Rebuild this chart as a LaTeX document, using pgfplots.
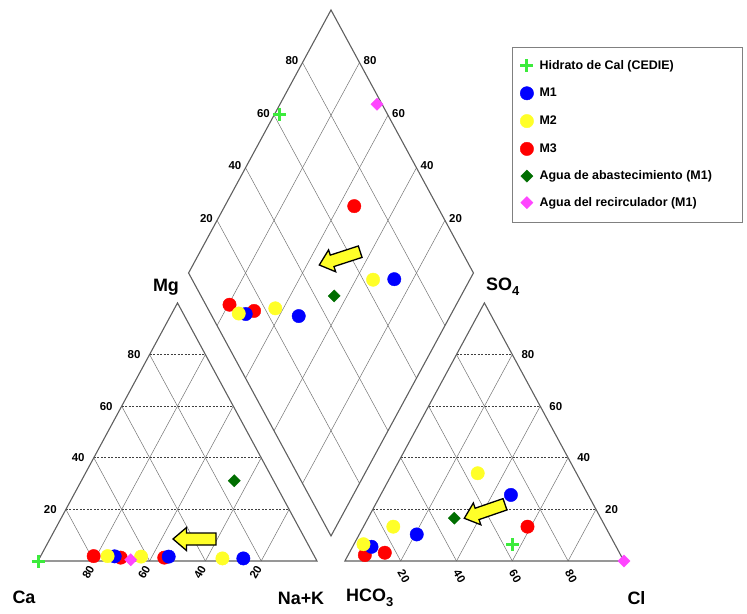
\documentclass[border=0pt]{standalone}
\usepackage{pgfplots}
\pgfplotsset{compat=1.18}
\usepackage{pgfplotstable}
\usepackage{fontspec}
\setmainfont{Liberation Sans}

\definecolor{limegreen}{RGB}{60,235,60}
\definecolor{mblue}{RGB}{0,0,255}
\definecolor{myellow}{RGB}{255,255,40}
\definecolor{mred}{RGB}{255,0,0}
\definecolor{dkgreen}{RGB}{0,110,0}
\definecolor{mpink}{RGB}{255,70,255}
\definecolor{outline}{RGB}{95,95,95}

% Ionic composition in meq-% : Mg, Na+K (cations) and SO4, Cl (anions)
\pgfplotstableread{
Mg   NaK   SO4   Cl
0.0  0.0   6.2   57.0
}\tabCal
\pgfplotstableread{
Mg   NaK   SO4   Cl
1.8  26.6  5.5   6.8
1.7  46.0  10.3  20.6
1.0  73.1  25.6  46.7
}\tabMone
\pgfplotstableread{
Mg   NaK   SO4   Cl
1.9  24.0  6.5   3.4
1.7  36.1  13.3  10.7
1.0  65.6  34.0  30.6
}\tabMtwo
\pgfplotstableread{
Mg   NaK   SO4   Cl
1.9  19.0  2.3   6.0
1.3  29.0  3.2   12.7
1.3  44.6  13.3  58.8
}\tabMthree
\pgfplotstableread{
Mg   NaK   SO4   Cl
31.1 54.8  16.6  30.9
}\tabAbast
\pgfplotstableread{
Mg   NaK   SO4   Cl
0.5  33.0  0.0   100.0
}\tabRecirc

\def\hh{0.8660254}
% diamond frame: centre x, half width, bottom y, half height
\def\dX{1.0502}\def\dA{0.5105}\def\dB{0.0839}\def\dH{0.8826}

% placement of a sample in the three fields
\pgfplotsset{
  table/cation/.style={x expr={\thisrow{NaK}/100+\thisrow{Mg}/200}, y expr={\hh*\thisrow{Mg}/100}},
  table/anion/.style={x expr={1.1+\thisrow{Cl}/100+\thisrow{SO4}/200}, y expr={\hh*\thisrow{SO4}/100}},
  table/central/.style={x expr={0.55+(\thisrow{SO4}+\thisrow{Cl}+\thisrow{NaK})/200},
                  y expr={\hh*(1.1+(\thisrow{SO4}+\thisrow{Cl}-\thisrow{NaK})/100)}},
  sCal/.style={only marks, mark=+, mark size=6.5bp, line width=3bp, color=limegreen},
  sMone/.style={only marks, mark=*, mark size=6.7bp, color=mblue},
  sMtwo/.style={only marks, mark=*, mark size=6.7bp, color=myellow},
  sMthree/.style={only marks, mark=*, mark size=6.7bp, color=mred},
  sAbast/.style={only marks, mark=square*, mark size=4.3bp, color=dkgreen, mark options={rotate=45}},
  sRecirc/.style={only marks, mark=square*, mark size=4.3bp, color=mpink, mark options={rotate=45}},
}

\tikzset{
  frame/.style={draw=outline, line width=1.1bp},
  hgrid/.style={draw=black!75, line width=0.6bp, dash pattern=on 2bp off 1.5bp},
  dgrid/.style={draw=black!55, line width=0.5bp},
  tick/.style={font=\bfseries\fontsize{11.5}{12}\selectfont, inner sep=0pt},
  corner/.style={font=\bfseries\fontsize{18}{20}\selectfont, inner sep=0pt},
  arrowstyle/.style={draw=black, line width=1.3bp, fill=myellow, line join=miter},
}

\newcommand{\blockarrow}[3]{%
  \draw[arrowstyle, shift={(axis cs:#1,#2)}, rotate=#3]
    (0bp,0bp) -- (13.5bp,11.5bp) -- (13.5bp,6bp) -- (43bp,6bp) -- (43bp,-6bp)
    -- (13.5bp,-6bp) -- (13.5bp,-11.5bp) -- cycle;}

\begin{document}
\begin{tikzpicture}
\begin{axis}[
  scale only axis, width=747bp, height=614bp,
  xmin=-0.13620, xmax=2.54122, ymin=-0.17785, ymax=1.88255,
  hide axis, clip=false,
  legend style={at={(axis cs:1.7276,1.6846)}, anchor=north west, draw=none, fill=none,
    inner sep=0pt, row sep=14.4bp, column sep=6bp,
    font=\bfseries\fontsize{12.5}{14}\selectfont, nodes={inner sep=0pt}},
  legend cell align=left,
  legend image code/.code={\draw[#1] plot coordinates {(0bp,0bp)};},
]
\path (rel axis cs:0,0) rectangle (rel axis cs:1,1);

% ---------- left (cation) triangle ----------
\pgfplotsinvokeforeach{20,40,60,80}{
  \draw[dgrid] ({#1/100},0) -- ({0.5+#1/200},{\hh*(1-#1/100)});
  \draw[dgrid] ({1-#1/100},0) -- ({0.5-#1/200},{\hh*(1-#1/100)});
  \draw[hgrid] ({#1/200},{\hh*#1/100}) -- ({1-#1/200},{\hh*#1/100});
  \node[tick, anchor=east, xshift=-9bp] at ({#1/200},{\hh*#1/100}) {#1};
  \node[tick, xshift=-5.5bp, yshift=-11.5bp, rotate=60] at ({1-#1/100},0) {#1};
}
\draw[frame] (0,0) -- (1,0) -- (0.5,\hh) -- cycle;

% ---------- right (anion) triangle ----------
\pgfplotsinvokeforeach{20,40,60,80}{
  \draw[dgrid] ({1.1+#1/100},0) -- ({1.6+#1/200},{\hh*(1-#1/100)});
  \draw[dgrid] ({2.1-#1/100},0) -- ({1.6-#1/200},{\hh*(1-#1/100)});
  \draw[hgrid] ({1.1+#1/200},{\hh*#1/100}) -- ({2.1-#1/200},{\hh*#1/100});
  \node[tick, anchor=west, xshift=9bp] at ({2.1-#1/200},{\hh*#1/100}) {#1};
  \node[tick, xshift=3bp, yshift=-15.5bp, rotate=-60] at ({1.1+#1/100},0) {#1};
}
\draw[frame] (1.1,0) -- (2.1,0) -- (1.6,\hh) -- cycle;

% ---------- central diamond ----------
\pgfplotsinvokeforeach{20,40,60,80}{
  \draw[dgrid] ({\dX-\dA*#1/100},{\dB+\dH*#1/100}) -- ({\dX-\dA*#1/100+\dA},{\dB+\dH*#1/100+\dH});
  \draw[dgrid] ({\dX+\dA*#1/100},{\dB+\dH*#1/100}) -- ({\dX+\dA*#1/100-\dA},{\dB+\dH*#1/100+\dH});
  \node[tick, anchor=east, xshift=-4bp, yshift=2bp] at ({\dX-\dA+\dA*#1/100},{\dB+\dH+\dH*#1/100}) {#1};
  \node[tick, anchor=west, xshift=4bp, yshift=2bp] at ({\dX+\dA-\dA*#1/100},{\dB+\dH+\dH*#1/100}) {#1};
}
\draw[frame] (\dX,\dB) -- ({\dX-\dA},{\dB+\dH}) -- (\dX,{\dB+2*\dH}) -- ({\dX+\dA},{\dB+\dH}) -- cycle;

% ---------- corner names ----------
\node[corner] at (-0.0502,-0.1208) {Ca};
\node[corner] at (0.9427,-0.1242) {Na+K};
\node[corner] at (0.4588,0.9195) {Mg};
\node[corner, anchor=west] at (1.6057,0.9195) {SO\raisebox{-5bp}{\fontsize{13}{13}\selectfont 4}};
\node[corner, anchor=west] at (1.1039,-0.1242) {HCO\raisebox{-5bp}{\fontsize{13}{13}\selectfont 3}};
\node[corner] at (2.1452,-0.1242) {Cl};

% ---------- samples ----------
\addplot[sCal, forget plot] table[cation] {\tabCal};
\addplot[sCal, forget plot] table[anion] {\tabCal};
\addplot[sCal, forget plot] table[central] {\tabCal};
\addplot[sMthree, forget plot] table[cation] {\tabMthree};
\addplot[sMthree, forget plot] table[anion] {\tabMthree};
\addplot[sMthree, forget plot] table[central] {\tabMthree};
\addplot[sMone, forget plot] table[cation] {\tabMone};
\addplot[sMone, forget plot] table[anion] {\tabMone};
\addplot[sMone, forget plot] table[central] {\tabMone};
\addplot[sMtwo, forget plot] table[cation] {\tabMtwo};
\addplot[sMtwo, forget plot] table[anion] {\tabMtwo};
\addplot[sMtwo, forget plot] table[central] {\tabMtwo};
\addplot[sAbast, forget plot] table[cation] {\tabAbast};
\addplot[sAbast, forget plot] table[anion] {\tabAbast};
\addplot[sAbast, forget plot] table[central] {\tabAbast};
\addplot[sRecirc, forget plot] table[cation] {\tabRecirc};
\addplot[sRecirc, forget plot] table[anion] {\tabRecirc};
\addplot[sRecirc, forget plot] table[central] {\tabRecirc};

% ---------- pointers ----------
\blockarrow{0.4839}{0.0738}{0}
\blockarrow{1.0082}{0.9933}{18}
\blockarrow{1.5280}{0.1433}{19}

% ---------- legend ----------
\draw[draw=gray, line width=0.8bp, fill=white] (1.6989,1.7248) rectangle (2.5233,1.1376);
\addlegendimage{sCal}
\addlegendentry{Hidrato de Cal (CEDIE)}
\addlegendimage{sMone}
\addlegendentry{M1}
\addlegendimage{sMtwo}
\addlegendentry{M2}
\addlegendimage{sMthree}
\addlegendentry{M3}
\addlegendimage{sAbast}
\addlegendentry{Agua de abastecimiento (M1)}
\addlegendimage{sRecirc}
\addlegendentry{Agua del recirculador (M1)}
\end{axis}
\end{tikzpicture}
\end{document}
